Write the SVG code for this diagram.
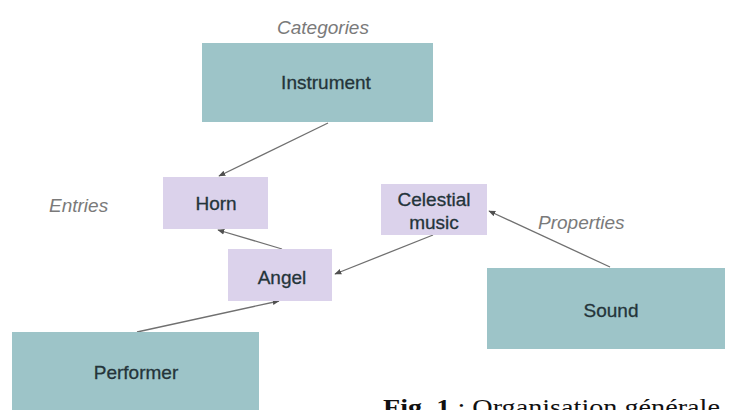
<svg xmlns="http://www.w3.org/2000/svg" width="732" height="410" viewBox="0 0 732 410">
<defs>
<style>
.cat{fill:#9dc4c8}
.ent{fill:#dbd2eb}
.t{font-family:"Liberation Sans",Arial,sans-serif;font-size:19px;fill:#24343a;text-anchor:middle;stroke:#24343a;stroke-width:0.3}
.lab{font-family:"Liberation Sans",Arial,sans-serif;font-size:19px;font-style:italic;fill:#7a7a7a}
.c{stroke:#707070;stroke-width:1.3;fill:none;marker-end:url(#ah)}
.cap{font-family:"Liberation Serif","Times New Roman",serif;font-size:23px;fill:#111}
</style>
<marker id="ah" viewBox="0 0 10 10" refX="9" refY="5" markerWidth="7" markerHeight="7" orient="auto" markerUnits="userSpaceOnUse">
<path d="M0,1 L10,5 L0,9 z" fill="#505050"/>
</marker>
</defs>
<rect width="732" height="410" fill="#fff"/>
<text class="lab" x="323" y="34" text-anchor="middle">Categories</text>
<text class="lab" x="49" y="212">Entries</text>
<text class="lab" x="538" y="229">Properties</text>
<g id="connectors">
<line class="c" x1="328" y1="123" x2="219" y2="176"/>
<line class="c" x1="282" y1="249" x2="218" y2="230"/>
<line class="c" x1="433" y1="235" x2="335" y2="274"/>
<line class="c" x1="137" y1="332" x2="279" y2="301"/>
<line class="c" x1="610" y1="267" x2="489" y2="211"/>
</g>
<g id="instrument"><rect class="cat" x="202" y="43" width="231" height="79"/><text class="t" x="326" y="89">Instrument</text></g>
<g id="horn"><rect class="ent" x="163" y="177" width="105" height="52"/><text class="t" x="216" y="210">Horn</text></g>
<g id="angel"><rect class="ent" x="228" y="249" width="104" height="52"/><text class="t" x="282" y="284">Angel</text></g>
<g id="celestial"><rect class="ent" x="381" y="184" width="106" height="51"/><text class="t" x="434" y="206">Celestial</text><text class="t" x="434" y="229">music</text></g>
<g id="sound"><rect class="cat" x="487" y="268" width="238" height="81"/><text class="t" x="611" y="317">Sound</text></g>
<g id="performer"><rect class="cat" x="12" y="332" width="247" height="80"/><text class="t" x="136" y="379">Performer</text></g>
<text class="cap" x="383" y="415" textLength="337" lengthAdjust="spacingAndGlyphs"><tspan font-weight="bold">Fig. 1</tspan> : Organisation générale</text>
</svg>
